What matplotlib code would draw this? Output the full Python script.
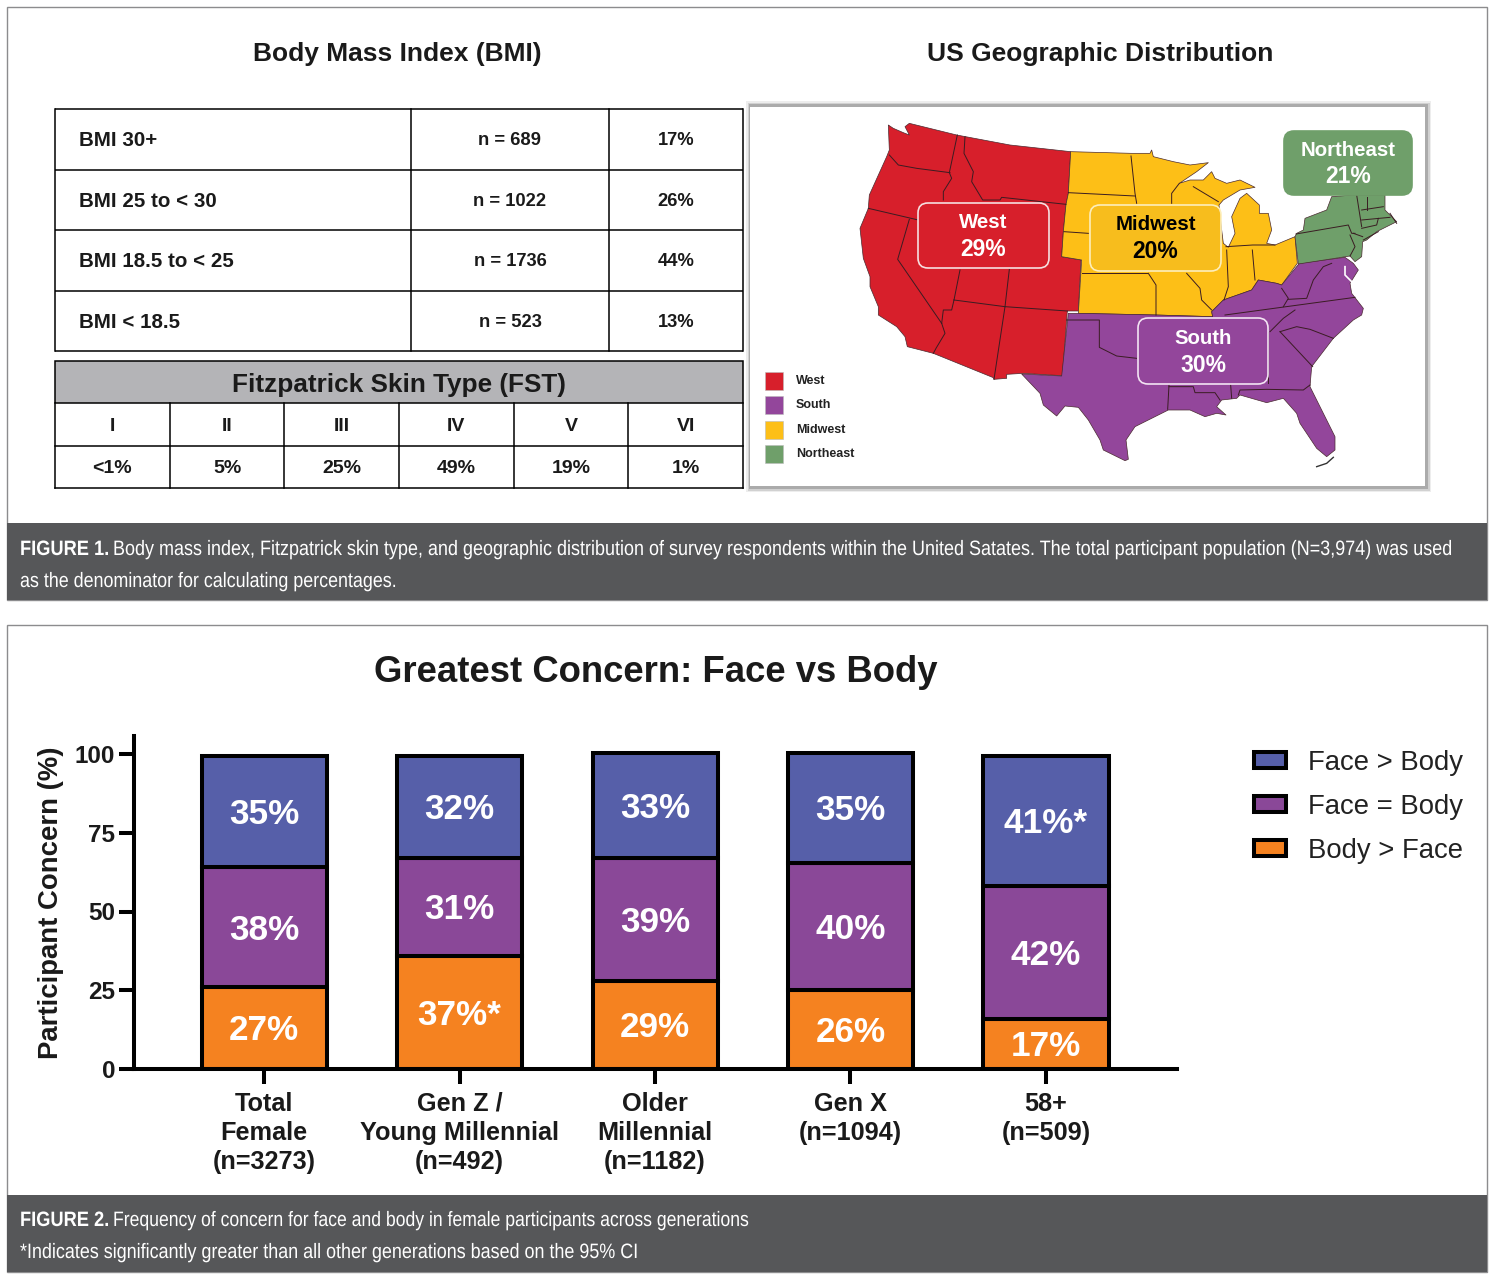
import matplotlib
matplotlib.use("Agg")
import matplotlib.pyplot as plt
from matplotlib.patches import Rectangle, Polygon, FancyBboxPatch
from matplotlib.patheffects import AbstractPathEffect
from matplotlib.transforms import Affine2D
import numpy as np

W, H = 1500, 1287
plt.rcParams['font.family'] = ['Liberation Sans', 'DejaVu Sans']

# ---- data ----
bmi_labels = ["BMI 30+", "BMI 25 to < 30", "BMI 18.5 to < 25", "BMI < 18.5"]
bmi_n = ["n = 689", "n = 1022", "n = 1736", "n = 523"]
bmi_pct = ["17%", "26%", "44%", "13%"]
fst_types = ["I", "II", "III", "IV", "V", "VI"]
fst_pct = ["<1%", "5%", "25%", "49%", "19%", "1%"]

generations = ["Total\nFemale\n(n=3273)", "Gen Z /\nYoung Millennial\n(n=492)",
               "Older\nMillennial\n(n=1182)", "Gen X\n(n=1094)", "58+\n(n=509)"]
body_gt_face = [26, 36, 28, 25, 16]
face_eq_body = [38, 31, 39, 40.5, 42]
face_gt_body = [35.4, 32.4, 33.4, 34.9, 41.4]
body_labels = ["27%", "37%*", "29%", "26%", "17%"]
equal_labels = ["38%", "31%", "39%", "40%", "42%"]
face_labels = ["35%", "32%", "33%", "35%", "41%*"]
yticks = [0, 25, 50, 75, 100]

# map outlines, traced in three crops of the picture
def crop_a(p): return [(1020 + x / 3, 250 + y / 3) for x, y in p]
def crop_b(p): return [(850 + x / 3, 110 + y / 3) for x, y in p]
def crop_c(p): return [(1140 + x / 3, 130 + y / 3) for x, y in p]

west_outline = crop_b([(115,45),(130,55),(160,68),(178,75),(165,50),(178,40),(320,75),(480,105),(662,125),(655,250),(648,283),
                       (640,365),(635,440),(693,450),(685,603),(652,603),(637,797),(520,790),(470,793),(470,805),(432,808),
                       (430,803),(250,730),(172,710),(165,680),(140,650),(85,615),(85,590),(60,530),(60,500),(40,445),
                       (30,355),(55,295),(58,255),(110,140),(118,120)])
midwest_outline = (crop_b([(662,125),(843,130),(895,130)])
    + crop_c([(30,70),(35,60),(40,80),(100,95),(150,105),(205,98),(170,125),(118,160),(150,150),(190,150),(215,125),(225,145),
              (260,160),(300,150),(345,172),(300,180),(250,210),(237,225),(245,300),(250,340),(265,352),(285,310),(275,260),
              (300,205),(320,190),(358,225),(358,250),(385,250),(395,300),(380,340),(405,345),(465,320),(472,400)])
    + crop_a([(785,105),(770,100),(715,90),(695,120),(610,150),(575,185),(578,200),(408,195),(175,190),(185,30)])
    + crop_b([(635,440),(640,365),(648,283),(655,250)]))
south_outline = crop_a([(145,190),(175,190),(408,195),(578,200),(575,185),(610,150),(695,120),(715,90),(770,100),(785,105),
                        (838,40),(975,22),(1000,40),(1015,60),(990,100),(995,130),(1030,175),(1025,195),(1000,210),(940,265),
                        (875,350),(870,410),(910,490),(945,560),(945,600),(920,620),(890,595),(840,520),(830,490),(790,445),
                        (740,458),(660,435),(650,445),(605,450),(590,470),(618,495),(590,490),(555,500),(510,480),(445,480),
                        (345,530),(318,570),(325,628),(315,632),(250,600),(240,570),(205,510),(175,472),(135,468),(110,498),
                        (70,465),(60,430),(5,372),(125,378)])
northeast_outline = crop_c([(465,320),(470,310),(490,300),(495,265),(560,240),(575,200),(640,195),(735,195),(735,240),(770,275),
                            (710,305),(680,330),(668,335),(665,380),(645,395),(630,378),(475,402)])
state_lines = [crop_b(s) for s in (
    [(118,135),(145,165),(200,175),(300,188)], [(322,75),(298,188),(305,205),(280,245),(280,270)],
    [(345,80),(342,130),(370,185),(365,215),(398,270),(450,270),(455,262),(648,283)], [(55,295),(205,330)],
    [(178,328),(143,448),(275,640)], [(330,480),(312,570)], [(312,570),(305,600),(280,600),(275,640)],
    [(275,640),(285,670),(258,715),(250,730)], [(312,570),(465,590),(652,603)], [(478,478),(465,590)],
    [(465,590),(432,808)], [(655,248),(855,258)], [(843,138),(855,250),(860,280)], [(642,365),(715,370)],
)] + [crop_a(s) for s in (
    [(140,210),(238,210),(238,292),(290,318),(350,325)], [(447,405),(443,478)],
    [(447,410),(520,410),(525,428),(585,428),(600,450)], [(632,405),(635,445)],
    [(655,435),(660,420),(740,418),(850,420),(870,405)], [(780,245),(878,350)],
    [(780,245),(830,230),(870,238),(940,265)], [(750,245),(790,205),(825,180)], [(615,195),(1005,142)],
    [(785,115),(805,145),(790,170)], [(805,148),(860,145),(880,90),(910,50),(935,40)],
    [(500,70),(540,115),(545,150),(575,180)], [(385,70),(408,105),(408,195)], [(620,0),(625,110),(612,150)],
    [(697,0),(705,90)], [(185,70),(380,70)], [(745,245),(745,400)],
)] + [crop_c(s) for s in (
    [(468,312),(625,285),(635,310),(645,310)], [(630,315),(645,350),(630,378)], [(640,310),(668,320)],
    [(650,195),(665,290)], [(682,200),(682,240)], [(665,240),(730,230)], [(665,270),(750,262)],
    [(665,295),(710,285),(715,265)], [(670,330),(715,305)], [(750,250),(770,280)],
    [(118,160),(95,190),(95,220)], [(160,170),(235,215)], [(258,350),(338,345),(405,345)],
)]
florida_keys = crop_a([(890,650),(920,640),(940,622)])
chesapeake = crop_a([(975,50),(975,75),(995,95),(1000,125)])

# ---- colours ----
PANEL_EDGE = "#8c8c8e"
CAPTION = "#565759"
RED, PURPLE, YELLOW, GREEN = "#d71f2b", "#93469b", "#fdbf17", "#6f9f6a"
BLUE_BAR, PURPLE_BAR, ORANGE_BAR = "#565fa9", "#8a4898", "#f58220"
INK = "#1a1a1a"

fig = plt.figure(figsize=(W / 100, H / 100), dpi=100, facecolor="white")
bg = fig.add_axes([0, 0, 1, 1])
bg.set_xlim(0, W)
bg.set_ylim(H, 0)
bg.axis("off")
renderer = fig.canvas.get_renderer()

# ---- condensed real text: glyph outlines are rescaled about the baseline origin when drawn ----
class Stretch(AbstractPathEffect):
    def __init__(self, sx, sy):
        super().__init__()
        self.sx, self.sy = sx, sy
    def draw_path(self, renderer, gc, tpath, affine, rgbFace=None):
        mat = affine.get_matrix()
        x0, y0 = mat[0, 2], mat[1, 2]
        t = Affine2D().translate(-x0, -y0).scale(self.sx, self.sy).translate(x0, y0)
        renderer.draw_path(gc, tpath, affine + t, rgbFace)

def condensed(x0, x1, baseline, s, weight="normal", size=12, sy=1.25):
    t = bg.text(x0, baseline, s, color="white", fontsize=size, weight=weight, va="baseline")
    sx = (x1 - x0) / t.get_window_extent(renderer).width
    t.set_path_effects([Stretch(sx, sy)])

# ---- panels and captions ----
bg.add_patch(Rectangle((7, 7), 1480, 593, fc="white", ec=PANEL_EDGE, lw=1))
bg.add_patch(Rectangle((7, 625), 1480, 647, fc="white", ec=PANEL_EDGE, lw=1))
bg.add_patch(Rectangle((7, 523), 1480, 77, fc=CAPTION, ec="none"))
bg.add_patch(Rectangle((7, 1195), 1480, 77, fc=CAPTION, ec="none"))

condensed(20, 109, 555, "FIGURE 1.", weight="bold")
condensed(113, 1455, 555, "Body mass index, Fitzpatrick skin type, and geographic distribution of survey respondents within the United Satates. The total participant population (N=3,974) was used")
condensed(20, 398, 587, "as the denominator for calculating percentages.")
condensed(20, 109, 1226, "FIGURE 2.", weight="bold")
condensed(113, 751, 1226, "Frequency of concern for face and body in female participants across generations")
condensed(20, 640, 1258, "*Indicates significantly greater than all other generations based on the 95% CI")

# ---- headings ----
bg.text(397, 54, "Body Mass Index (BMI)", fontsize=19, weight="bold", ha="center", va="center", color=INK)
bg.text(1100, 54, "US Geographic Distribution", fontsize=19, weight="bold", ha="center", va="center", color=INK)
bg.text(655.5, 672, "Greatest Concern: Face vs Body", fontsize=26.3, weight="bold", ha="center", va="center", color=INK)

# ---- BMI table ----
ys = np.linspace(109, 351, len(bmi_labels) + 1)
for i, (a, b, c) in enumerate(zip(bmi_labels, bmi_n, bmi_pct)):
    ym = (ys[i] + ys[i + 1]) / 2 + 1.5
    bg.text(79, ym, a, fontsize=14.8, weight="bold", va="center", color=INK)
    bg.text(510, ym, b, fontsize=13.2, weight="bold", va="center", ha="center", color=INK)
    bg.text(676, ym, c, fontsize=13.2, weight="bold", va="center", ha="center", color=INK)
    bg.plot([55, 743], [ys[i], ys[i]], color="black", lw=1.1, solid_capstyle="butt")
bg.plot([55, 743], [ys[-1], ys[-1]], color="black", lw=1.1, solid_capstyle="butt")
for x in (55, 411, 609, 743):
    bg.plot([x, x], [109, 351], color="black", lw=1.1)

# ---- FST table ----
bg.add_patch(Rectangle((55, 361), 688, 42, fc="#b4b4b7", ec="black", lw=1.1))
bg.text(399, 385, "Fitzpatrick Skin Type (FST)", fontsize=18.8, weight="bold", ha="center", va="center", color=INK)
xs = np.linspace(55, 743, len(fst_types) + 1)
for i, (a, b) in enumerate(zip(fst_types, fst_pct)):
    xm = (xs[i] + xs[i + 1]) / 2
    bg.text(xm, 426.5, a, fontsize=14, weight="bold", ha="center", va="center", color=INK)
    bg.text(xm, 468.5, b, fontsize=14, weight="bold", ha="center", va="center", color=INK)
for x in xs:
    bg.plot([x, x], [403, 488], color="black", lw=1.1)
for y in (446, 488):
    bg.plot([55, 743], [y, y], color="black", lw=1.1)

# ---- map ----
for off, al in ((5, .10), (3.5, .18), (2, .3)):
    bg.add_patch(Rectangle((751 - off, 106 - off), 675 + 2 * off, 381 + 2 * off, fc="#555555", alpha=al, ec="none"))
bg.add_patch(Rectangle((750, 107), 675, 379, fc="white", ec="none"))

m = fig.add_axes([745 / W, 1 - 500 / H, 700 / W, 400 / H])
m.set_xlim(745, 1445)
m.set_ylim(500, 100)
m.axis("off")
m.patch.set_alpha(0)
for pts, col in ((west_outline, RED), (midwest_outline, YELLOW), (south_outline, PURPLE), (northeast_outline, GREEN)):
    m.add_patch(Polygon(pts, closed=True, fc=col, ec="#4a2a30", lw=.5, joinstyle="round"))
for line in state_lines:
    arr = np.array(line)
    m.plot(arr[:, 0], arr[:, 1], color="#3a1c22", lw=.7, solid_joinstyle="round")
arr = np.array(florida_keys); m.plot(arr[:, 0], arr[:, 1], color="#333333", lw=1)
arr = np.array(chesapeake); m.plot(arr[:, 0], arr[:, 1], color="white", lw=1.2)

def map_box(x0, y0, x1, y1, fc, ec, line1, line2, y1t, y2t, tc):
    m.add_patch(FancyBboxPatch((x0 + 10, y0 + 10), x1 - x0 - 20, y1 - y0 - 20,
                               boxstyle="round,pad=10,rounding_size=10", fc=fc, ec=ec, lw=1.2, zorder=5))
    xc = (x0 + x1) / 2
    m.text(xc, y1t, line1, color=tc, fontsize=14.7, weight="bold", ha="center", va="center", zorder=6)
    m.text(xc, y2t, line2, color=tc, fontsize=16.5, weight="bold", ha="center", va="center", zorder=6)

map_box(918, 203, 1049, 268, RED, "#f6dfe0", "West", "29%", 223, 249.5, "white")
map_box(1090, 205, 1221, 271, "#f7bd1d", "#fdeebb", "Midwest", "20%", 225, 251.5, "black")
map_box(1138, 318, 1268, 384, PURPLE, "#f3e4f3", "South", "30%", 338, 365.5, "white")
map_box(1284, 131, 1412, 195, GREEN, GREEN, "Northeast", "21%", 150, 176.5, "white")

for name, col, y0 in zip(["West", "South", "Midwest", "Northeast"], [RED, PURPLE, YELLOW, GREEN], [372, 396, 421, 445]):
    m.add_patch(Rectangle((765, y0), 18, 17.5, fc=col, ec="#bbbbbb", lw=.4))
    m.text(796, y0 + 9, name, fontsize=9, weight="bold", va="center", color="#222222")

# ---- stacked bars ----
LEFT, RIGHT, Y0, YTOP, STEP, X0 = 134, 1177, 1069, 736, 195.5, 264
ax = fig.add_axes([LEFT / W, 1 - Y0 / H, (RIGHT - LEFT) / W, (Y0 - YTOP) / H])
ax.set_xlim((LEFT - X0) / STEP, (RIGHT - X0) / STEP)
ax.set_ylim(0, (Y0 - YTOP) / 3.15)
ax.patch.set_alpha(0)
pos = np.arange(len(generations))
o = np.array(body_gt_face, float)
p = np.array(face_eq_body, float)
b = np.array(face_gt_body, float)
bw = 125 / STEP
kw = dict(width=bw, edgecolor="black", linewidth=2.9, zorder=3)
ax.bar(pos, o, color=ORANGE_BAR, label="Body > Face", **kw)
ax.bar(pos, p, bottom=o, color=PURPLE_BAR, label="Face = Body", **kw)
ax.bar(pos, b, bottom=o + p, color=BLUE_BAR, label="Face > Body", **kw)
LABEL_DROP = -0.9
for i in pos:
    for y, s in ((o[i] / 2, body_labels[i]), (o[i] + p[i] / 2, equal_labels[i]), (o[i] + p[i] + b[i] / 2, face_labels[i])):
        ax.text(i, y + LABEL_DROP, s, color="white", fontsize=25.3, weight="bold", ha="center", va="center", zorder=5)
for s in ("top", "right"):
    ax.spines[s].set_visible(False)
for s in ("left", "bottom"):
    ax.spines[s].set_linewidth(2.9)
ax.spines["bottom"].set_zorder(6)
ax.set_yticks(yticks)
ax.set_xticks(pos)
ax.set_xticklabels(generations, fontsize=18.2, weight="bold", linespacing=1.27, color=INK)
ax.tick_params(axis="y", length=10.5, width=2.9, labelsize=17.5, pad=3, labelcolor=INK)
ax.tick_params(axis="x", length=10.5, width=2.9, pad=6)
for t in ax.get_yticklabels():
    t.set_fontweight("bold")
ax.set_ylabel("Participant Concern (%)", fontsize=19.8, weight="bold", color=INK, labelpad=8)

bg.set_zorder(0); m.set_zorder(1); ax.set_zorder(2)
for col, s, y in zip((BLUE_BAR, PURPLE_BAR, ORANGE_BAR), ("Face > Body", "Face = Body", "Body > Face"), (760, 804, 848)):
    bg.add_patch(Rectangle((1254, y - 8), 32, 16, fc=col, ec="black", lw=2.9))
    bg.text(1308, y + 2.5, s, fontsize=19.8, va="center", color="#222222")

fig.savefig("out.png", dpi=100, facecolor="white")
